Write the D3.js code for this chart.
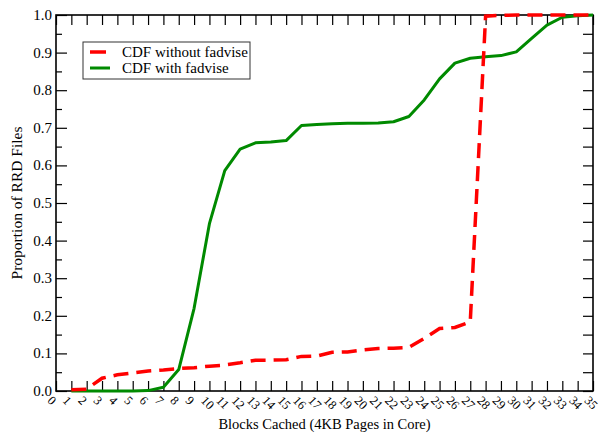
<!DOCTYPE html>
<html>
<head>
<meta charset="utf-8">
<script src="https://cdn.jsdelivr.net/npm/d3@7"></script>
<style>
  body { margin: 0; background: #fff; }
</style>
</head>
<body>
<div id="graphic"></div>
<script>
const width = 599;
const height = 435;

// blocks cached (x values)
const blocks = d3.range(1, 36);
const xTicks = d3.range(0, 36);
const yTicks = [0, 0.1, 0.2, 0.3, 0.4, 0.5, 0.6, 0.7, 0.8, 0.9, 1.0];

const withoutFadvise = [0.003, 0.005, 0.034, 0.043, 0.048, 0.053, 0.056, 0.06, 0.062, 0.066,
  0.069, 0.075, 0.082, 0.082, 0.083, 0.092, 0.093, 0.103, 0.104, 0.109,
  0.113, 0.114, 0.116, 0.14, 0.166, 0.169, 0.184, 0.997, 0.999, 1.0,
  1.0, 1.0, 1.0, 1.0, 1.0];

const withFadvise = [0, 0, 0, 0, 0, 0.001, 0.01, 0.057, 0.22, 0.445,
  0.586, 0.643, 0.66, 0.662, 0.666, 0.706, 0.709, 0.711, 0.712, 0.712,
  0.713, 0.716, 0.73, 0.774, 0.83, 0.872, 0.885, 0.889, 0.892, 0.902,
  0.938, 0.973, 0.994, 0.998, 1.0];

const seriesNames = ['CDF without fadvise', 'CDF with fadvise'];

const plotLeft = 56, plotRight = 593, plotTop = 15, plotBottom = 391;
const serif = '"Liberation Serif", "Times New Roman", Times, "DejaVu Serif", serif';

const svg = d3.select('#graphic')
    .append('svg')
    .attr('width', width)
    .attr('height', height)
    .attr('font-family', serif);

const scaleX = d3.scaleLinear()
    .domain([0, 35])
    .range([plotLeft, plotRight]);

const scaleY = d3.scaleLinear()
    .domain([0, 1])
    .range([plotBottom, plotTop]);

// axes, ticks pointing inward
svg.append('g')
    .attr('transform', `translate(0, ${plotBottom})`)
    .call(d3.axisTop(scaleX).tickValues(xTicks).tickSize(10).tickFormat(''));

svg.append('g')
    .attr('transform', `translate(0, ${plotTop})`)
    .call(d3.axisBottom(scaleX).tickValues(xTicks).tickSize(10).tickFormat(''));

const minorY = d3.range(0.05, 1, 0.1);

svg.append('g')
    .attr('transform', `translate(${plotLeft}, 0)`)
    .call(d3.axisRight(scaleY).tickValues(yTicks).tickSize(11).tickFormat(''));
svg.append('g')
    .attr('transform', `translate(${plotLeft}, 0)`)
    .call(d3.axisRight(scaleY).tickValues(minorY).tickSize(6).tickFormat(''));

svg.append('g')
    .attr('transform', `translate(${plotRight}, 0)`)
    .call(d3.axisLeft(scaleY).tickValues(yTicks).tickSize(10).tickFormat(''));
svg.append('g')
    .attr('transform', `translate(${plotRight}, 0)`)
    .call(d3.axisLeft(scaleY).tickValues(minorY).tickSize(10).tickFormat(''));

svg.selectAll('.domain').remove();
svg.selectAll('.tick line').attr('stroke', '#000').attr('stroke-width', 1.2);

svg.append('rect')
    .attr('x', plotLeft)
    .attr('y', plotTop)
    .attr('width', plotRight - plotLeft)
    .attr('height', plotBottom - plotTop)
    .attr('fill', 'none')
    .attr('stroke', '#000')
    .attr('stroke-width', 1.6);

// tick labels
svg.selectAll('.ylab')
    .data(yTicks)
    .enter()
    .append('text')
    .attr('x', plotLeft - 4)
    .attr('y', d => scaleY(d) + 5)
    .attr('text-anchor', 'end')
    .attr('font-family', serif)
    .style('font-size', '15px')
    .text(d => d.toFixed(1));

svg.selectAll('.xlab')
    .data(xTicks)
    .enter()
    .append('text')
    .attr('transform', d => `translate(${scaleX(d) - 3}, ${plotBottom + 4}) rotate(45)`)
    .attr('text-anchor', 'start')
    .attr('dominant-baseline', 'hanging')
    .attr('font-family', serif)
    .style('font-size', '12.5px')
    .text(d => d);

// lines
const line = d3.line()
    .x((d, i) => scaleX(blocks[i]))
    .y(d => scaleY(d));

svg.append('path')
    .datum(withFadvise)
    .attr('d', line)
    .attr('fill', 'none')
    .attr('stroke', '#008a00')
    .attr('stroke-width', 3)
    .attr('stroke-linejoin', 'round');

svg.append('path')
    .datum(withoutFadvise)
    .attr('d', line)
    .attr('fill', 'none')
    .attr('stroke', '#ff0000')
    .attr('stroke-width', 3.5)
    .attr('stroke-dasharray', '15,8');

// axis titles
svg.append('text')
    .attr('x', (plotLeft + plotRight) / 2)
    .attr('y', 429)
    .attr('text-anchor', 'middle')
    .attr('font-family', serif)
    .style('font-size', '14.5px')
    .text('Blocks Cached (4KB Pages in Core)');

svg.append('text')
    .attr('transform', `translate(22, ${(plotTop + plotBottom) / 2}) rotate(-90)`)
    .attr('text-anchor', 'middle')
    .attr('font-family', serif)
    .style('font-size', '15.5px')
    .text('Proportion of RRD Files');

// legend
const legend = svg.append('g');
legend.append('rect')
    .attr('x', 83)
    .attr('y', 42)
    .attr('width', 167)
    .attr('height', 37)
    .attr('fill', '#fff')
    .attr('stroke', '#333')
    .attr('stroke-width', 1);

const legendColors = ['#ff0000', '#008a00'];
seriesNames.forEach((name, i) => {
    legend.append('line')
        .attr('x1', 90)
        .attr('x2', i === 0 ? 106 : 110)
        .attr('y1', 52 + i * 16)
        .attr('y2', 52 + i * 16)
        .attr('stroke', legendColors[i])
        .attr('stroke-width', i === 0 ? 3.5 : 3);
    legend.append('text')
        .attr('x', 122)
        .attr('y', 57 + i * 16)
        .attr('font-family', serif)
        .style('font-size', '15px')
        .text(name);
});
</script>
</body>
</html>
